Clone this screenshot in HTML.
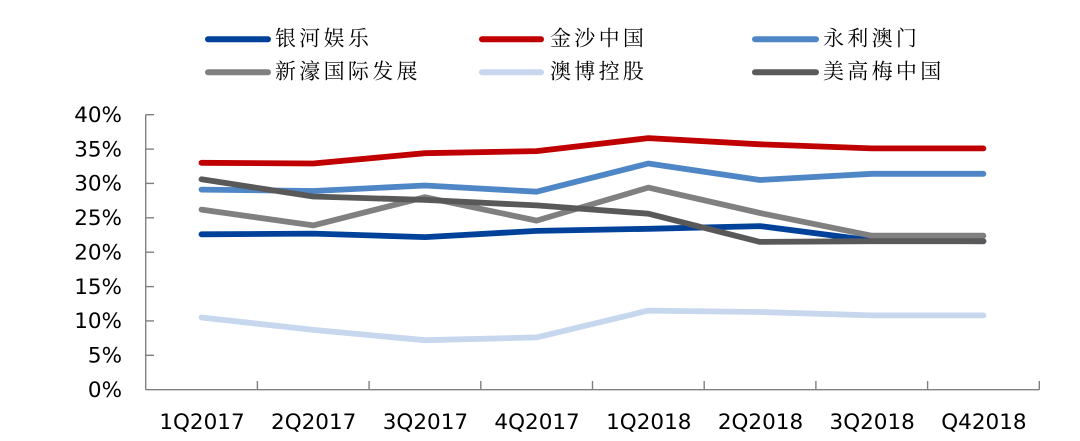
<!DOCTYPE html>
<html>
<head>
<meta charset="utf-8">
<style>
  html,body{margin:0;padding:0;background:#fff;}
  svg{display:block;}
  .ax{font-family:"DejaVu Sans","Liberation Sans",sans-serif;font-size:21.5px;fill:#000;}
  .lg{font-family:"Liberation Serif","Noto Serif CJK SC",serif;font-size:21px;fill:#000;letter-spacing:3.3px;}
</style>
</head>
<body>
<svg width="1080" height="441" viewBox="0 0 1080 441" xmlns="http://www.w3.org/2000/svg">
  <rect width="1080" height="441" fill="#fff"/>

  <!-- Legend -->
  <g stroke-width="6" stroke-linecap="round" fill="none">
    <line x1="208" y1="39.3" x2="268" y2="39.3" stroke="#00429A"/>
    <line x1="482" y1="39.3" x2="541" y2="39.3" stroke="#C00000"/>
    <line x1="755" y1="39.3" x2="816" y2="39.3" stroke="#4F86C6"/>
    <line x1="208" y1="72.3" x2="268" y2="72.3" stroke="#808080"/>
    <line x1="482" y1="72.3" x2="541" y2="72.3" stroke="#C6D7EE"/>
    <line x1="755" y1="72.3" x2="816" y2="72.3" stroke="#595959"/>
  </g>
  <g class="lg" dominant-baseline="central">
    <text x="275" y="38.5">银河娱乐</text>
    <text x="550" y="38.5">金沙中国</text>
    <text x="823" y="38.5">永利澳门</text>
    <text x="275" y="71.5">新濠国际发展</text>
    <text x="550" y="71.5">澳博控股</text>
    <text x="823" y="71.5">美高梅中国</text>
  </g>

  <!-- Axes -->
  <g stroke="#808080" stroke-width="1.4" fill="none">
    <line x1="145.7" y1="114.7" x2="145.7" y2="389.7"/>
    <line x1="145.7" y1="389.7" x2="1039.3" y2="389.7"/>
    <line x1="145.7" y1="114.7" x2="154" y2="114.7"/>
    <line x1="145.7" y1="149.1" x2="154" y2="149.1"/>
    <line x1="145.7" y1="183.4" x2="154" y2="183.4"/>
    <line x1="145.7" y1="217.8" x2="154" y2="217.8"/>
    <line x1="145.7" y1="252.2" x2="154" y2="252.2"/>
    <line x1="145.7" y1="286.6" x2="154" y2="286.6"/>
    <line x1="145.7" y1="320.9" x2="154" y2="320.9"/>
    <line x1="145.7" y1="355.3" x2="154" y2="355.3"/>
    <line x1="257.4" y1="389.7" x2="257.4" y2="381"/>
    <line x1="369.1" y1="389.7" x2="369.1" y2="381"/>
    <line x1="480.8" y1="389.7" x2="480.8" y2="381"/>
    <line x1="592.5" y1="389.7" x2="592.5" y2="381"/>
    <line x1="704.2" y1="389.7" x2="704.2" y2="381"/>
    <line x1="815.9" y1="389.7" x2="815.9" y2="381"/>
    <line x1="927.6" y1="389.7" x2="927.6" y2="381"/>
    <line x1="1039.3" y1="389.7" x2="1039.3" y2="381"/>
  </g>

  <!-- Y labels -->
  <g class="ax" text-anchor="end" dominant-baseline="central">
    <text x="122" y="115.5">40%</text>
    <text x="122" y="149.9">35%</text>
    <text x="122" y="184.2">30%</text>
    <text x="122" y="218.6">25%</text>
    <text x="122" y="253">20%</text>
    <text x="122" y="287.4">15%</text>
    <text x="122" y="321.7">10%</text>
    <text x="122" y="356.1">5%</text>
    <text x="122" y="390.5">0%</text>
  </g>

  <!-- X labels -->
  <g class="ax" text-anchor="middle" dominant-baseline="central">
    <text x="202" y="422.5">1Q2017</text>
    <text x="313.7" y="422.5">2Q2017</text>
    <text x="425.4" y="422.5">3Q2017</text>
    <text x="537.1" y="422.5">4Q2017</text>
    <text x="648.8" y="422.5">1Q2018</text>
    <text x="760.5" y="422.5">2Q2018</text>
    <text x="872.2" y="422.5">3Q2018</text>
    <text x="983.9" y="422.5">Q42018</text>
  </g>

  <!-- Series -->
  <g fill="none" stroke-width="5.8" stroke-linecap="round" stroke-linejoin="round">
    <polyline stroke="#00429A" points="201.5,234.3 313.2,233.6 424.9,237.1 536.6,230.9 648.3,228.8 760,226.1 871.7,240.5 983.4,241.2"/>
    <polyline stroke="#C00000" points="201.5,162.8 313.2,163.5 424.9,153.2 536.6,151.1 648.3,138.1 760,144.3 871.7,148.4 983.4,148.4"/>
    <polyline stroke="#4F86C6" points="201.5,189.6 313.2,191.0 424.9,185.5 536.6,191.7 648.3,163.5 760,180.0 871.7,173.8 983.4,173.8"/>
    <polyline stroke="#808080" points="201.5,209.6 313.2,225.4 424.9,197.2 536.6,220.6 648.3,187.6 760,213.0 871.7,235.7 983.4,235.7"/>
    <polyline stroke="#C6D7EE" points="201.5,317.5 313.2,329.9 424.9,340.2 536.6,337.4 648.3,310.6 760,312.0 871.7,315.4 983.4,315.4"/>
    <polyline stroke="#595959" points="201.5,179.3 313.2,196.5 424.9,199.9 536.6,205.4 648.3,213.7 760,241.9 871.7,241.2 983.4,241.2"/>
  </g>
</svg>
</body>
</html>
